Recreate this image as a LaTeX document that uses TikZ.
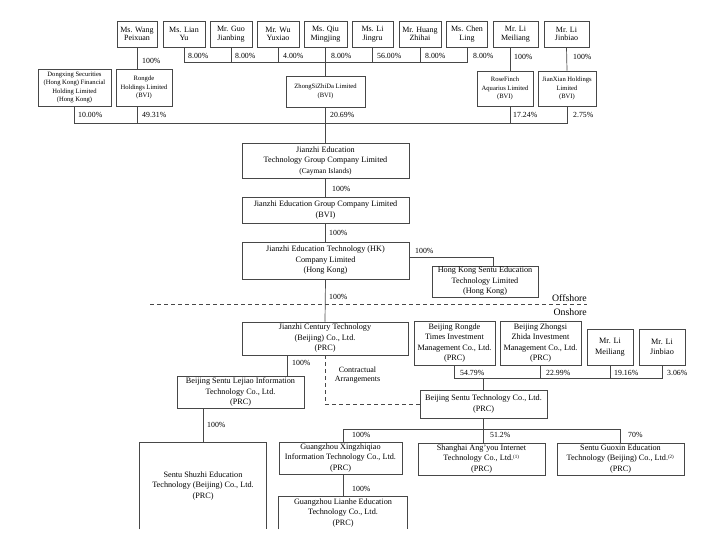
\documentclass[tikz,border=0pt]{standalone}
\usepackage{fontspec}
\setmainfont{Liberation Serif}
\usetikzlibrary{calc}
\begin{document}
\begin{tikzpicture}[x=1pt,y=-1pt,
  line/.style={draw=black!72, line width=0.7pt},
  dline/.style={line, dash pattern=on 4pt off 3pt},
  box/.style={draw=black!72, line width=0.7pt, align=center, inner sep=0pt,
    font=\fontsize{8.2}{10.5}\selectfont, anchor=center},
  obox/.style={box, draw=none},
  pbox/.style={box, font=\fontsize{8}{8.5}\selectfont},
  sbox/.style={box, font=\fontsize{6.6}{8.6}\selectfont},
  pct/.style={font=\fontsize{7.8}{9}\selectfont, inner sep=0pt, anchor=west},
  side/.style={font=\fontsize{9.8}{11}\selectfont, inner sep=0pt, anchor=east}]
\useasboundingbox (0,0) rectangle (708,542);
\def\sup#1{\textsuperscript{\tiny(#1)}}
% top row persons
\node[pbox, minimum width=40, minimum height=26] (wang) at (137,34) {Ms. Wang\\Peixuan};
\node[pbox, minimum width=42, minimum height=26] (lian) at (184,34) {Ms. Lian\\Yu};
\node[pbox, minimum width=42, minimum height=26] (guo) at (231,34) {Mr. Guo\\Jianbing};
\node[pbox, minimum width=42, minimum height=26] (wu) at (278,34) {Mr. Wu\\Yuxiao};
\node[pbox, minimum width=43, minimum height=26] (qiu) at (325.5,34) {Ms. Qiu\\Mingjing};
\node[pbox, minimum width=41, minimum height=26] (jingru) at (372.5,34) {Ms. Li\\Jingru};
\node[pbox, minimum width=42, minimum height=26] (huang) at (420,34) {Mr. Huang\\Zhihai};
\node[pbox, minimum width=41, minimum height=26] (chen) at (467,34) {Ms. Chen\\Ling};
\node[pbox, minimum width=45, minimum height=26] (meiliang) at (515.5,34) {Mr. Li\\Meiliang};
\node[pbox, minimum width=45, minimum height=26] (jinbiao) at (566.5,34) {Mr. Li\\Jinbiao};
% second row holding companies
\node[sbox, minimum width=73, minimum height=37] (dongxing) at (74.5,87.5) {Dongxing Securities\\(Hong Kong) Financial\\Holding Limited\\(Hong Kong)};
\node[sbox, minimum width=56, minimum height=37] (rongde) at (144,87.5) {Rongde\\Holdings Limited\\(BVI)};
\node[sbox, minimum width=79, minimum height=31] (zhongsi) at (325.5,91.5) {ZhongSiZhiDa Limited\\(BVI)};
\node[sbox, minimum width=56, minimum height=35] (rosefinch) at (505,88.5) {RoseFinch\\Aquarius Limited\\(BVI)};
\node[sbox, minimum width=58, minimum height=35] (jianxian) at (567,88.5) {JianXian Holdings\\Limited\\(BVI)};
% main chain
\node[box, minimum width=167, minimum height=35] (cayman) at (325.5,160.5) {Jianzhi Education\\Technology Group Company Limited\\{\fontsize{7.4}{9}\selectfont(Cayman Islands)}};
\node[box, minimum width=167, minimum height=26] (bvi) at (325.5,210) {Jianzhi Education Group Company Limited\\(BVI)};
\node[box, minimum width=167, minimum height=37] (hk) at (325.5,260.5) {Jianzhi Education Technology (HK)\\Company Limited\\(Hong Kong)};
\node[box, minimum width=106, minimum height=31] (hksentu) at (485,281.5) {Hong Kong Sentu Education\\Technology Limited\\(Hong Kong)};
\node[side] (offshore) at (587,298) {Offshore};
\node[side] (onshore) at (587,312) {Onshore};
\coordinate (dashL) at (150,304);
\coordinate (dashR) at (587,304);
% onshore
\node[box, minimum width=166, minimum height=33] (century) at (325,338.5) {Jianzhi Century Technology\\(Beijing) Co., Ltd.\\(PRC)};
\node[box, minimum width=81, minimum height=44] (rongdetimes) at (454.5,343) {Beijing Rongde\\Times Investment\\Management Co., Ltd.\\(PRC)};
\node[box, minimum width=81, minimum height=44] (zhongsizhida) at (540.5,343) {Beijing Zhongsi\\Zhida Investment\\Management Co., Ltd.\\(PRC)};
\node[box, minimum width=46, minimum height=36] (limeiliang) at (610,347) {Mr. Li\\Meiliang};
\node[box, minimum width=46, minimum height=36] (lijinbiao) at (662,347) {Mr. Li\\Jinbiao};
\node[box, minimum width=127, minimum height=32] (lejiao) at (240.5,392) {Beijing Sentu Lejiao Information\\Technology Co., Ltd.\\(PRC)};
\node[box, minimum width=127, minimum height=28] (bjsentu) at (483.5,404) {Beijing Sentu Technology Co., Ltd.\\(PRC)};
\node[font=\fontsize{8}{9}\selectfont, align=center, inner sep=0pt] (contract) at (357.5,375.5) {Contractual\\Arrangements};
\node[box, minimum width=123, minimum height=32] (xing) at (340.5,458) {Guangzhou Xingzhiqiao\\Information Technology Co., Ltd.\\(PRC)};
\node[box, minimum width=127, minimum height=32] (shanghai) at (481.5,459) {Shanghai Ang'you Internet\\Technology Co., Ltd.\sup{1}\\(PRC)};
\node[box, minimum width=127, minimum height=32] (guoxin) at (620.5,459) {Sentu Guoxin Education\\Technology (Beijing) Co., Ltd.\sup{2}\\(PRC)};
\node[obox, minimum width=126, minimum height=86] (shuzhi) at (203,486) {Sentu Shuzhi Education\\Technology (Beijing) Co., Ltd.\\(PRC)};
\node[obox, minimum width=128, minimum height=32] (lianhe) at (343,513) {Guangzhou Lianhe Education\\Technology Co., Ltd.\\(PRC)};
\draw[line] (shuzhi.south west) -- (shuzhi.north west) -- (shuzhi.north east) -- (shuzhi.south east);
\draw[line] (lianhe.south west) -- (lianhe.north west) -- (lianhe.north east) -- (lianhe.south east);
% bus coordinates
\coordinate (bus1) at (0,62);
\coordinate (bus2) at (0,123);
\coordinate (bus3) at (0,378);
\coordinate (bus4) at (0,429);
\coordinate (m1) at (510,0);
\coordinate (c1) at (287,0);
% connectors top
\draw[line] (lian.south) -- (lian.south |- bus1) -- (chen.south |- bus1) -- (chen.south);
\foreach \n in {guo,wu,jingru,huang} \draw[line] (\n.south) -- (\n.south |- bus1);
\draw[line] (qiu.south) -- (zhongsi.north);
\draw[line] (wang.south) -- (wang.south |- rongde.north);
\draw[line] (wang.south |- rongde.south) -- (wang.south |- bus2);
\draw[line] (m1 |- meiliang.south) -- (m1 |- rosefinch.north);
\draw[line] (m1 |- rosefinch.south) -- (m1 |- bus2);
\draw[line] (jinbiao.south) -- (jianxian.north);
\draw[line] (dongxing.south) -- (dongxing.south |- bus2) -- (jianxian.south |- bus2) -- (jianxian.south);
\draw[line] (zhongsi.south) -- (cayman.north);
\draw[line] (cayman.south) -- (bvi.north);
\draw[line] (bvi.south) -- (hk.north);
\draw[line] ([yshift=3.5pt]hk.east) -| ([xshift=8pt]hksentu.north);
\draw[line] (hk.south) -- (century.north);
\draw[dline] (dashL) -- (dashR);
\draw[line] (c1 |- century.south) -- (c1 |- lejiao.north);
\draw[dline] (century.south) |- (bjsentu.west);
\draw[line] (rongdetimes.south) -- (rongdetimes.south |- bus3) -- (lijinbiao.south |- bus3) -- (lijinbiao.south);
\draw[line] (zhongsizhida.south) -- (zhongsizhida.south |- bus3);
\draw[line] (limeiliang.south) -- (limeiliang.south |- bus3);
\draw[line] (bjsentu.north) -- (bjsentu.north |- bus3);
\draw[line] (bjsentu.south) -- (bjsentu.south |- shanghai.north);
\draw[line] (lianhe.north |- xing.north) -- (lianhe.north |- bus4) -- (guoxin.north |- bus4) -- (guoxin.north);
\draw[line] (lianhe.north |- xing.south) -- (lianhe.north);
\draw[line] (shuzhi.north |- lejiao.south) -- (shuzhi.north);
% percentage labels
\node[pct] (p1) at (142,61) {100\%};
\node[pct] (p2) at (188,56) {8.00\%};
\node[pct] (p3) at (235,56) {8.00\%};
\node[pct] (p4) at (283,56) {4.00\%};
\node[pct] (p5) at (331,56) {8.00\%};
\node[pct] (p6) at (377,56) {56.00\%};
\node[pct] (p7) at (425,56) {8.00\%};
\node[pct] (p8) at (473,56) {8.00\%};
\node[pct] (p9) at (514,57) {100\%};
\node[pct] (p10) at (573,57) {100\%};
\node[pct] (p11) at (78,115) {10.00\%};
\node[pct] (p12) at (142,115) {49.31\%};
\node[pct] (p13) at (330,115) {20.69\%};
\node[pct] (p14) at (513,115) {17.24\%};
\node[pct] (p15) at (573,115) {2.75\%};
\node[pct] (p16) at (332,189) {100\%};
\node[pct] (p17) at (329,233) {100\%};
\node[pct] (p18) at (415,251) {100\%};
\node[pct] (p19) at (329,297) {100\%};
\node[pct] (p20) at (292,363) {100\%};
\node[pct] (p21) at (460,373) {54.79\%};
\node[pct] (p22) at (546,373) {22.99\%};
\node[pct] (p23) at (614,373) {19.16\%};
\node[pct] (p24) at (667,373) {3.06\%};
\node[pct] (p25) at (207,425) {100\%};
\node[pct] (p26) at (352,435) {100\%};
\node[pct] (p27) at (490,435) {51.2\%};
\node[pct] (p28) at (628,435) {70\%};
\node[pct] (p29) at (352,489) {100\%};
\end{tikzpicture}
\end{document}
